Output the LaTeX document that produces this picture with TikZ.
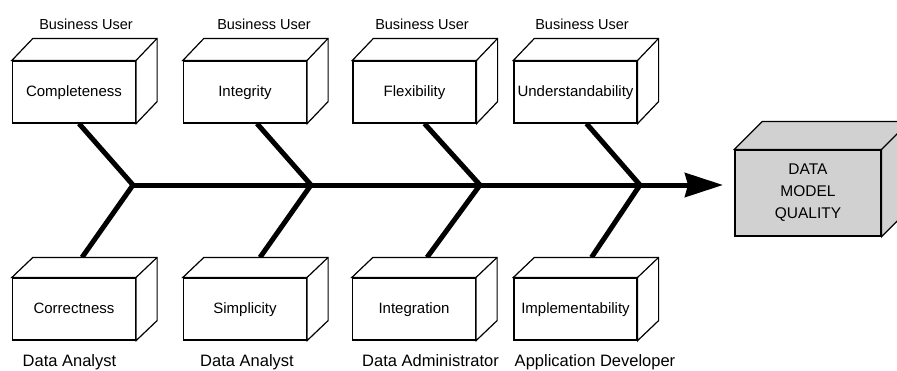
\documentclass[tikz,border=0pt]{standalone}
\usepackage{fontspec}
\setmainfont{Liberation Sans}
\usetikzlibrary{arrows.meta}
\definecolor{dmqgray}{gray}{0.82}
\newcommand\boxfont{\fontsize{15}{18}\selectfont}
\newcommand\topfont{\fontsize{14.5}{18}\selectfont}
\newcommand\botfont{\fontsize{16.5}{18}\selectfont}
\newcommand\depthfaces[4]{%
  \draw[line width=1.2pt, fill=#4, line join=miter]
    (#1.north west) -- ++(#2,-#3) -- ([shift={(#2,-#3)}]#1.north east)
    -- ([shift={(#2,-#3)}]#1.south east) -- (#1.south east) -- (#1.north east) -- cycle;
  \draw[line width=1.2pt] (#1.north east) -- ++(#2,-#3);
}
\begin{document}
\begin{tikzpicture}[x=1pt,y=-1pt,
  face/.style={draw, line width=1.2pt, fill=white, minimum width=123pt, minimum height=62pt,
    inner sep=0pt, font=\boxfont, text height=11pt, text depth=3pt},
  bigface/.style={draw, line width=1.2pt, fill=dmqgray, minimum width=146pt, minimum height=86pt,
    inner sep=0pt, font=\fontsize{15.5}{18}\selectfont, align=center},
  toplbl/.style={anchor=base, font=\topfont, inner sep=0pt},
  botlbl/.style={anchor=base, font=\botfont, inner sep=0pt},
  bone/.style={line width=5pt, line cap=butt, line join=miter},
]
\useasboundingbox (0,0) rectangle (897,370);

% junctions and arrow tip
\coordinate (j1) at (133,185);
\coordinate (j2) at (311,185);
\coordinate (j3) at (480,185);
\coordinate (j4) at (640,185);
\coordinate (tip) at (723,185);

% invisible placeholders fixing the box positions for the bones
\path
  node[face, draw=none, fill=none] (t1) at (74,92)  {}
  node[face, draw=none, fill=none] (t2) at (245,92) {}
  node[face, draw=none, fill=none] (t3) at (414.5,92) {}
  node[face, draw=none, fill=none] (t4) at (575.5,92) {}
  node[face, draw=none, fill=none] (b1) at (74,309)  {}
  node[face, draw=none, fill=none] (b2) at (245,309) {}
  node[face, draw=none, fill=none] (b3) at (414,309) {}
  node[face, draw=none, fill=none] (b4) at (575.5,309) {};

% bones
\draw[bone] ([xshift=5pt]t1.south)  -- (j1) -- ([shift={(8,-20)}]b1.north);
\draw[bone] ([xshift=12pt]t2.south) -- (j2) -- ([shift={(15,-20)}]b2.north);
\draw[bone] ([xshift=10pt]t3.south) -- (j3) -- ([shift={(13,-20)}]b3.north);
\draw[bone] ([xshift=11pt]t4.south) -- (j4) -- ([shift={(16,-20)}]b4.north);
\draw[bone, -{Stealth[length=38pt, width=24pt, inset=3pt]}] (j1) -- (tip);

% cause boxes
\node[face] (c1) at (74,92) {Completeness};
\depthfaces{c1}{21}{22}{white}
\node[face] (c2) at (245,92) {Integrity};
\depthfaces{c2}{21}{22}{white}
\node[face] (c3) at (414.5,92) {Flexibility};
\depthfaces{c3}{21}{22}{white}
\node[face] (c4) at (575.5,92) {Understandability};
\depthfaces{c4}{21}{22}{white}
\node[face] (c5) at (74,309) {Correctness};
\depthfaces{c5}{21}{20}{white}
\node[face] (c6) at (245,309) {Simplicity};
\depthfaces{c6}{21}{20}{white}
\node[face] (c7) at (414,309) {Integration};
\depthfaces{c7}{21}{20}{white}
\node[face] (c8) at (575.5,309) {Implementability};
\depthfaces{c8}{21}{20}{white}

% effect box
\node[bigface] (dmq) at (808,193) {DATA\\[4pt]MODEL\\[4pt]QUALITY};
\depthfaces{dmq}{28}{28}{dmqgray}

% role labels
\node[toplbl] (u1) at (86,29)  {Business User};
\node[toplbl] (u2) at (264,29) {Business User};
\node[toplbl] (u3) at (422,29) {Business User};
\node[toplbl] (u4) at (582,29) {Business User};
\node[botlbl] (r1) at (69.5,366) {Data Analyst};
\node[botlbl] (r2) at (247,366)  {Data Analyst};
\node[botlbl] (r3) at (430.5,366) {Data Administrator};
\node[botlbl] (r4) at (595,366)  {Application Developer};
\end{tikzpicture}
\end{document}
